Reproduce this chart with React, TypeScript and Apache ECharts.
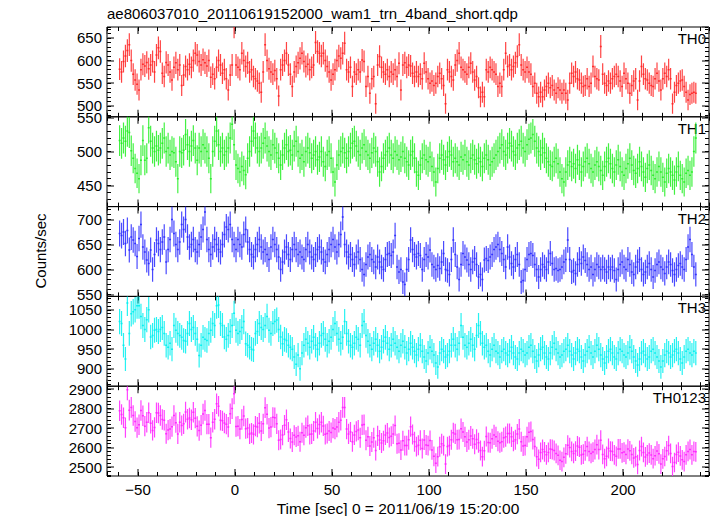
import React, { useEffect, useRef } from 'react';
import * as echarts from 'echarts';

// 1-second bins, first bin centre at t = -59.5 s
const T_START = -59.5;
const BIN_SEC = 1;

const TH0 = [
  581, 575, 598, 610, 622, 635, 600, 570, 557, 548,
  535, 580, 592, 588, 596, 582, 590, 598, 575, 612,
  628, 620, 572, 565, 596, 590, 575, 557, 585, 595,
  580, 590, 545, 568, 587, 580, 592, 585, 600, 616,
  612, 598, 590, 602, 595, 588, 600, 563, 570, 560,
  585, 600, 590, 572, 580, 560, 535, 568, 590, 675,
  590, 585, 580, 616, 600, 587, 595, 575, 580, 565,
  560, 555, 550, 530, 575, 635, 600, 582, 575, 570,
  578, 560, 522, 580, 590, 600, 616, 590, 570, 543,
  575, 587, 595, 605, 616, 598, 587, 592, 580, 585,
  590, 640, 620, 616, 610, 616, 600, 587, 575, 557,
  570, 580, 600, 610, 605, 616, 638, 580, 575, 585,
  543, 575, 570, 580, 575, 601, 598, 543, 565, 528,
  560, 565, 505, 590, 609, 585, 575, 570, 580, 565,
  575, 570, 580, 565, 594, 535, 590, 595, 585, 590,
  588, 572, 565, 575, 565, 570, 560, 594, 575, 560,
  550, 555, 545, 550, 565, 572, 560, 545, 505, 580,
  575, 565, 557, 590, 600, 616, 585, 580, 575, 570,
  585, 594, 575, 557, 565, 540, 520, 530, 520, 580,
  575, 585, 580, 575, 570, 543, 550, 543, 580, 616,
  587, 590, 580, 587, 595, 609, 635, 590, 580, 575,
  585, 575, 570, 543, 550, 528, 520, 530, 520, 535,
  543, 550, 540, 545, 535, 528, 540, 535, 528, 535,
  528, 513, 550, 572, 565, 575, 560, 557, 550, 543,
  545, 560, 543, 550, 587, 565, 560, 557, 631, 570,
  550, 545, 555, 550, 560, 565, 570, 565, 555, 543,
  572, 560, 550, 528, 545, 555, 560, 513, 555, 587,
  570, 560, 557, 550, 545, 543, 560, 572, 555, 535,
  560, 572, 565, 580, 560, 505, 530, 545, 550, 555,
  557, 543, 530, 513, 525, 528, 530, 528,
];

const TH1 = [
  516, 512, 520, 515, 530, 528, 501, 490, 475, 468,
  460, 487, 516, 487, 490, 535, 515, 505, 500, 508,
  502, 505, 512, 520, 500, 505, 495, 500, 498, 485,
  460, 500, 498, 502, 525, 510, 500, 508, 516, 505,
  487, 505, 500, 510, 505, 500, 490, 460, 500, 515,
  530, 510, 500, 505, 495, 500, 505, 520, 540, 510,
  480, 475, 470, 478, 472, 466, 490, 500, 515, 530,
  520, 505, 500,
  505, 512, 520, 508, 500, 495, 510, 505, 498, 490,
  480, 495, 505, 510, 500, 502, 495, 508, 515, 500,
  490, 495, 485, 500, 505, 498, 490, 495, 500, 488,
  492, 500, 485, 478, 495, 500, 490, 470, 455, 480,
  495, 500, 505, 498, 490, 500, 505, 512, 515, 508,
  500, 495, 505, 510, 500, 495, 490, 498, 505, 500,
  485, 470, 478, 490, 495, 500, 505, 495, 490, 500,
  495, 488, 492, 500, 490, 485, 480, 495, 500, 490,
  470, 465, 480, 490, 495, 488, 485, 492, 478, 470,
  455, 475, 490, 495, 488, 480, 492, 500, 495, 485,
  490, 485, 480, 492, 488, 495, 485, 480, 490, 495,
  488, 482, 490, 485, 478, 490, 495, 488, 480, 485,
  490, 495, 500, 505, 510, 500, 495, 505, 512, 508,
  500, 495, 505, 510, 515, 505, 500, 510, 518, 520,
  525, 515, 505, 500, 495, 505, 498, 490, 485, 480,
  478, 485, 490, 482, 470, 460, 455, 470, 480, 485,
  478, 482, 475, 488, 480, 470, 478, 485, 490, 482,
  475, 470, 480, 485, 478, 472, 465, 478, 485, 490,
  482, 475, 470, 480, 488, 478, 470, 465, 475, 482,
  490, 480, 472, 468, 475, 485, 478, 470, 462, 475,
  480, 472, 465, 460, 470, 478, 470, 462, 455, 468,
  475, 470, 465, 458, 470, 478, 465, 460, 455, 468,
  472, 465, 470, 500, 520,
];

const TH2 = [
  672, 668, 675, 652, 678, 639, 665, 659, 652, 626,
  662, 690, 645, 635, 619, 612, 639, 600, 630, 659,
  652, 640, 655, 665, 615, 640, 660, 700, 672, 650,
  640, 655, 690, 680, 700, 665, 645, 650, 660, 640,
  635, 650, 665, 680, 715, 660, 640, 630, 645, 660,
  650, 640, 635, 650, 670, 685, 680, 690, 660, 650,
  640, 660, 650, 645, 670, 680, 655, 640, 630, 625,
  640, 650, 660, 645, 635, 640, 630, 620, 645, 660,
  650, 640, 625, 600, 615, 635, 645, 630, 620, 640,
  650, 640, 630, 635, 625, 620, 640, 650, 635, 625,
  620, 630, 640, 645, 635, 620, 615, 630, 640, 650,
  660, 645, 635, 650, 670, 705, 650, 635, 625, 630,
  620, 610, 625, 635, 620, 600, 590, 610, 625, 630,
  620, 615, 605, 625, 615, 605, 600, 620, 630, 632,
  628, 635, 668, 605, 595, 600, 575, 570, 600, 620,
  659, 640, 630, 625, 632, 628, 600, 620, 630, 625,
  639, 610, 605, 600, 608, 602, 615, 632, 600, 598,
  590, 620, 659, 630, 605, 580, 610, 632, 625, 619,
  610, 600, 615, 622, 610, 585, 590, 580, 619, 622,
  618, 625, 630, 640, 645, 650, 640, 632, 620, 605,
  645, 625, 612, 605, 620, 630, 610, 575, 578, 600,
  620, 630, 632, 628, 610, 600, 585, 600, 610, 605,
  600, 615, 632, 612, 600, 602, 598, 600, 605, 615,
  620, 659, 620, 595, 598, 592, 610, 620, 612, 625,
  618, 610, 600, 605, 590, 600, 610, 605, 600, 605,
  600, 595, 605, 600, 605, 598, 580, 600, 610, 615,
  605, 600, 620, 610, 595, 590, 605, 615, 620, 600,
  590, 595, 605, 612, 600, 585, 598, 610, 615, 605,
  600, 592, 605, 615, 610, 598, 590, 600, 608, 612,
  605, 600, 620, 645, 660, 630, 605, 590,
];

const TH3 = [
  1020, 1015, 960, 925, 1067, 990, 1040, 1045, 1050, 1060,
  1060, 1033, 1010, 1000, 1025, 1050, 981, 985, 998, 1000,
  995, 1000, 1005, 990, 960, 955, 965, 950, 1010, 998,
  990, 985, 980, 972, 970, 990, 1015, 1000, 1005, 990,
  975, 934, 960, 980, 975, 972, 990, 998, 1015, 1010,
  1060, 1062, 1015, 1010, 981, 975, 985, 995, 1010, 1041,
  998, 990, 995, 1005, 1020, 964, 960, 955, 950, 948,
  990, 995, 1015, 1005, 1000, 1010, 1033, 998, 990, 1015,
  1020, 1024, 1000, 981, 964, 975, 972, 960, 955, 950,
  930, 912, 935, 900, 940, 960, 975, 965, 955, 970,
  980, 960, 950, 965, 985, 990, 975, 960, 970, 980,
  1000, 1015, 990, 975, 965, 980, 1020, 990, 970, 960,
  955, 965, 980, 975, 960, 1010, 1020, 985, 970, 960,
  950, 965, 975, 960, 945, 955, 970, 980, 965, 950,
  960, 975, 965, 955, 945, 960, 970, 955, 940, 950,
  965, 955, 945, 935, 950, 960, 945, 930, 920, 940,
  955, 945, 935, 915, 905, 940, 950, 945, 930, 935,
  945, 960, 975, 960, 950, 965, 1010, 980, 960, 955,
  965, 975, 960, 950, 985, 1010, 990, 965, 955, 960,
  945, 935, 950, 960, 945, 940, 930, 945, 950, 940,
  935, 945, 955, 940, 930, 925, 940, 950, 945, 935,
  940, 955, 960, 945, 930, 920, 935, 950, 955, 940,
  930, 925, 940, 955, 965, 950, 940, 930, 935, 945,
  950, 960, 945, 935, 925, 940, 950, 945, 930, 920,
  935, 945, 955, 940, 930, 945, 960, 950, 935, 925,
  915, 930, 945, 950, 940, 930, 925, 940, 950, 945,
  935, 930, 940, 955, 945, 930, 920, 910, 925, 940,
  945, 935, 925, 930, 945, 950, 940, 930, 920, 905,
  920, 935, 945, 940, 930, 935, 945, 950, 940, 925,
  915, 930, 945, 950, 940, 935, 945, 940,
];

// TH0123 is the sum of the four energy bands
const N_BINS = Math.min(TH0.length, TH1.length, TH2.length, TH3.length);
const TH0123 = Array.from({ length: N_BINS }, (_, i) => TH0[i] + TH1[i] + TH2[i] + TH3[i]);

const PANEL_NAMES = ['TH0', 'TH1', 'TH2', 'TH3', 'TH0123'];
const PANEL_DATA = [TH0, TH1, TH2, TH3, TH0123];
const PANEL_COLORS = ['#ff2222', '#22ee22', '#2a2aff', '#00f0f0', '#ff22ff'];
const Y_MIN = [476, 419, 546, 856, 2454];
const Y_MAX = [674, 551, 726, 1084, 2915];
const Y_MAJOR = [50, 50, 50, 50, 100];
const Y_MINOR = [10, 10, 10, 10, 20];
const X_MIN = -66;
const X_MAX = 244.3;
const X_MAJOR = 50;
const X_MINOR = 10;

const TITLE = 'ae806037010_20110619152000_wam1_trn_4band_short.qdp';
const X_TITLE = 'Time [sec] 0 = 2011/06/19 15:20:00';
const Y_TITLE = 'Counts/sec';

const FONT = "'Liberation Sans', Arial, Helvetica, sans-serif";
const GRID_LEFT = 107;
const GRID_RIGHT = 8;
const GRID_TOP = 27;
const PANEL_H = 89.8;

export default function App() {
  const ref = useRef<HTMLDivElement>(null);

  useEffect(() => {
    if (!ref.current) return;
    const chart = echarts.init(ref.current, null, { renderer: 'svg' });

    const grids: any[] = [];
    const xAxes: any[] = [];
    const yAxes: any[] = [];
    const series: any[] = [];
    const graphics: any[] = [];

    PANEL_NAMES.forEach((name, k) => {
      grids.push({
        left: GRID_LEFT,
        right: GRID_RIGHT,
        top: GRID_TOP + k * PANEL_H,
        height: PANEL_H,
        show: true,
        borderColor: '#000',
        borderWidth: 1,
        backgroundColor: 'transparent',
      });

      const xAxis = (pos: string, iv: number, len: number, col: string, w: number, label: boolean) => ({
        type: 'value',
        gridIndex: k,
        position: pos,
        min: X_MIN,
        max: X_MAX,
        minInterval: iv,
        maxInterval: iv,
        axisLine: { show: false, onZero: false },
        axisTick: { show: true, inside: true, length: len, lineStyle: { color: col, width: w } },
        axisLabel: {
          show: label,
          showMinLabel: false,
          showMaxLabel: false,
          margin: 6,
          color: '#000',
          fontSize: 15,
          fontFamily: FONT,
          formatter: (v: number) => (v < 0 ? '\u2212' + Math.abs(v) : String(v)),
        },
        splitLine: { show: false },
      });
      xAxes.push(xAxis('bottom', X_MAJOR, 7, '#555', 1.5, k === PANEL_NAMES.length - 1));
      xAxes.push(xAxis('bottom', X_MINOR, 4, '#000', 1, false));
      xAxes.push(xAxis('top', X_MAJOR, 7, '#555', 1.5, false));
      xAxes.push(xAxis('top', X_MINOR, 4, '#000', 1, false));

      const yAxis = (pos: string, iv: number, len: number, col: string, w: number, label: boolean) => ({
        type: 'value',
        gridIndex: k,
        position: pos,
        min: Y_MIN[k],
        max: Y_MAX[k],
        minInterval: iv,
        maxInterval: iv,
        axisLine: { show: false, onZero: false },
        axisTick: { show: true, inside: true, length: len, lineStyle: { color: col, width: w } },
        axisLabel: {
          show: label,
          showMinLabel: false,
          showMaxLabel: false,
          margin: 5,
          color: '#000',
          fontSize: 15,
          fontFamily: FONT,
          formatter: (v: number) => String(v),
        },
        splitLine: { show: false },
      });
      yAxes.push(yAxis('left', Y_MAJOR[k], 7, '#555', 1.5, true));
      yAxes.push(yAxis('left', Y_MINOR[k], 4, '#000', 1, false));
      yAxes.push(yAxis('right', Y_MAJOR[k], 7, '#555', 1.5, false));
      yAxes.push(yAxis('right', Y_MINOR[k], 4, '#000', 1, false));

      const color = PANEL_COLORS[k];
      const values = PANEL_DATA[k];
      series.push({
        type: 'custom',
        xAxisIndex: k * 4,
        yAxisIndex: k * 4,
        clip: true,
        silent: true,
        encode: { x: 0, y: 1 },
        data: values.slice(0, N_BINS).map((v, i) => [T_START + i * BIN_SEC, v, Math.sqrt(v / BIN_SEC)]),
        renderItem: (_params: any, api: any) => {
          const t = api.value(0);
          const v = api.value(1);
          const e = api.value(2);
          const hi = api.coord([t, v + e]);
          const lo = api.coord([t, v - e]);
          const l = api.coord([t - BIN_SEC / 2, v]);
          const r = api.coord([t + BIN_SEC / 2, v]);
          return {
            type: 'group',
            children: [
              {
                type: 'rect',
                shape: { x: hi[0] - 0.6, y: hi[1], width: 1.2, height: lo[1] - hi[1] },
                style: { fill: color, opacity: 0.85 },
              },
              {
                type: 'rect',
                shape: { x: l[0], y: l[1] - 0.75, width: r[0] - l[0], height: 1.5 },
                style: { fill: color, opacity: 0.9 },
              },
            ],
          };
        },
      });

      graphics.push({
        type: 'text',
        right: 11,
        top: GRID_TOP + k * PANEL_H + 4,
        style: { text: name, fill: '#000', font: `15px ${FONT}` },
      });
    });

    graphics.push({
      type: 'text',
      left: GRID_LEFT,
      top: 6,
      style: { text: TITLE, fill: '#000', font: `15px ${FONT}` },
    });
    graphics.push({
      type: 'text',
      x: 398,
      y: 508,
      style: { text: X_TITLE, fill: '#000', font: `15.5px ${FONT}`, textAlign: 'center', textVerticalAlign: 'middle' },
    });
    graphics.push({
      type: 'text',
      x: 40,
      y: 251,
      rotation: Math.PI / 2,
      style: { text: Y_TITLE, fill: '#000', font: `15px ${FONT}`, textAlign: 'center', textVerticalAlign: 'middle' },
    });

    chart.setOption({
      animation: false,
      backgroundColor: '#fff',
      grid: grids,
      xAxis: xAxes,
      yAxis: yAxes,
      series,
      graphic: graphics,
    });

    return () => chart.dispose();
  }, []);

  return <div ref={ref} style={{ width: 717, height: 516, position: 'absolute', left: 0, top: 0 }} />;
}
